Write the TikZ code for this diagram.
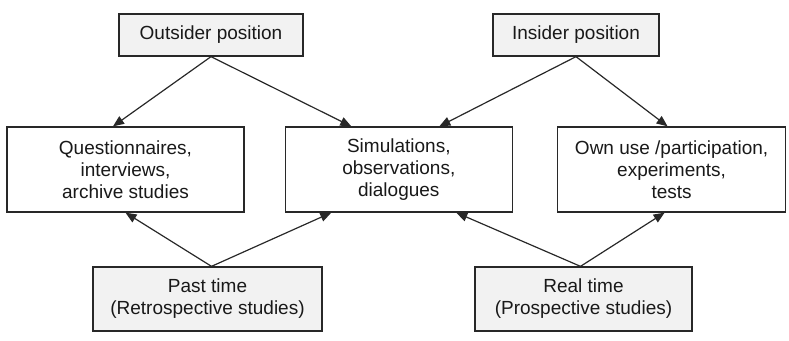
\documentclass[tikz,border=0pt]{standalone}
\usepackage{fontspec}
\setmainfont{Liberation Sans}
\usetikzlibrary{arrows.meta,positioning,calc}
\definecolor{boxline}{RGB}{40,40,40}
\definecolor{boxgray}{RGB}{242,242,242}
\definecolor{textdark}{RGB}{25,25,25}

\begin{document}
\begin{tikzpicture}[x=1pt,y=1pt,
  every node/.style={font=\fontsize{19}{22}\selectfont,text=textdark},
  posbox/.style={draw=boxline,line width=1.3pt,fill=boxgray,minimum height=42pt,inner sep=0pt,align=center},
  methbox/.style={draw=boxline,line width=1.3pt,fill=white,minimum width=228pt,minimum height=85pt,inner sep=0pt,align=center},
  timebox/.style={draw=boxline,line width=1.3pt,fill=boxgray,minimum height=64pt,inner sep=0pt,align=center},
  link/.style={-{Triangle[length=11pt,width=9pt]},line width=1.2pt,draw=boxline}]
\useasboundingbox (0,0) rectangle (789,-340);
% middle row
\node[methbox,minimum width=237pt] (quest) at (125.5,-169.5) {Questionnaires,\\interviews,\\archive studies};
\node[methbox,minimum width=227pt,right=40pt of quest] (simul) {Simulations,\\observations,\\dialogues};
\node[methbox,right=44pt of simul] (ownuse) {Own use /participation,\\experiments,\\tests};
% positions
\node[posbox,minimum width=184pt] (outsider) at (211,-35) {Outsider position};
\node[posbox,minimum width=166pt] (insider) at (576,-35) {Insider position};
% time
\node[timebox,minimum width=229pt] (past) at (207.5,-299) {Past time\\(Retrospective studies)};
\node[timebox,minimum width=217pt] (real) at (583.5,-299) {Real time\\(Prospective studies)};
\draw[link] (outsider.south) -- ($(quest.north)+(-12.5,0)$);
\draw[link] (outsider.south) -- ($(simul.north)+(-47.5,0)$);
\draw[link] (insider.south) -- ($(simul.north)+(40.5,0)$);
\draw[link] (insider.south) -- ($(ownuse.north)+(-4,0)$);
\draw[link] ($(past.north)+(4,0)$) -- (quest.south);
\draw[link] ($(past.north)+(4,0)$) -- ($(simul.south)+(-67.5,0)$);
\draw[link] ($(real.north)+(-3,0)$) -- ($(simul.south)+(57.5,0)$);
\draw[link] ($(real.north)+(-3,0)$) -- ($(ownuse.south)+(-7,0)$);
\end{tikzpicture}
\end{document}
